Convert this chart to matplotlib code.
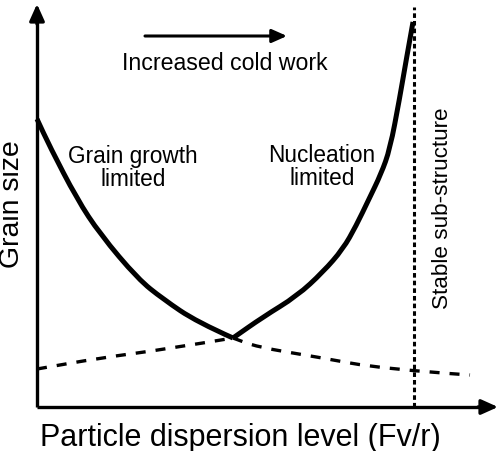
import matplotlib
matplotlib.use("Agg")
import matplotlib.pyplot as plt
from matplotlib.path import Path
from matplotlib.patches import PathPatch

plt.rcParams['font.family'] = ['Liberation Sans', 'DejaVu Sans']

# Thick curve: grain growth limited branch (left) and nucleation limited branch (right)
left_x = [0.00, 0.13, 0.40, 0.63, 1.01, 1.26, 1.60, 1.96]
left_y = [2.88, 2.60, 2.08, 1.73, 1.28, 1.08, 0.85, 0.69]
right_x = [1.96, 2.26, 2.60, 2.86, 3.06, 3.19, 3.32, 3.44, 3.53, 3.625, 3.69, 3.76]
right_y = [0.69, 0.90, 1.11, 1.35, 1.58, 1.81, 2.08, 2.33, 2.58, 3.08, 3.46, 3.85]

# Dashed continuation curves
rise_x = [0.00, 0.63, 1.30, 1.96]
rise_y = [0.38, 0.49, 0.58, 0.69]
fall_x = [1.96, 2.20, 2.80, 3.46, 4.33]
fall_y = [0.69, 0.60, 0.50, 0.38, 0.32]

# Stable sub-structure limit
limit_x = 3.77
limit_top = 4.00

x_axis_end = 4.61
y_axis_end = 4.03

xlabel = "Particle dispersion level (Fv/r)"
ylabel = "Grain size"
label_left = "Grain growth\nlimited"
label_right = "Nucleation\nlimited"
label_limit = "Stable sub-structure"
label_arrow = "Increased cold work"


def smooth_path(xs, ys):
    """Quadratic-Bezier path using the read points as control points."""
    pts = list(zip(xs, ys))
    verts = [pts[0]]
    codes = [Path.MOVETO]
    if len(pts) == 2:
        verts.append(pts[1]); codes.append(Path.LINETO)
        return Path(verts, codes)
    verts.append(((pts[0][0] + pts[1][0]) / 2, (pts[0][1] + pts[1][1]) / 2))
    codes.append(Path.LINETO)
    for i in range(1, len(pts) - 1):
        ctrl = pts[i]
        if i < len(pts) - 2:
            end = ((pts[i][0] + pts[i + 1][0]) / 2, (pts[i][1] + pts[i + 1][1]) / 2)
        else:
            end = pts[i + 1]
        verts += [ctrl, end]
        codes += [Path.CURVE3, Path.CURVE3]
    return Path(verts, codes)


fig = plt.figure(figsize=(5.0, 4.52), dpi=100)
ax = fig.add_axes([0, 0, 1, 1])
ax.set_xlim(-0.37, 4.63)
ax.set_ylim(-0.44, 4.08)
ax.axis('off')

# axes with arrows
ax.plot([0, 0], [0, y_axis_end - 0.12], color='black', lw=2.4, solid_capstyle='butt')
ax.plot([0, x_axis_end - 0.12], [0, 0], color='black', lw=2.4, solid_capstyle='butt')
ax.annotate('', xy=(0, y_axis_end), xytext=(0, y_axis_end - 0.2),
            arrowprops=dict(arrowstyle='-|>,head_length=1.0,head_width=0.45',
                            color='black', lw=2.4, shrinkA=0, shrinkB=0))
ax.annotate('', xy=(x_axis_end, 0), xytext=(x_axis_end - 0.2, 0),
            arrowprops=dict(arrowstyle='-|>,head_length=1.0,head_width=0.45',
                            color='black', lw=2.4, shrinkA=0, shrinkB=0))

# main curve
for xs, ys in ((left_x, left_y), (right_x, right_y)):
    ax.add_patch(PathPatch(smooth_path(xs, ys), facecolor='none', edgecolor='black',
                           lw=3.6, joinstyle='round', capstyle='butt'))

# dashed curves
for xs, ys in ((rise_x, rise_y), (fall_x, fall_y)):
    ax.add_patch(PathPatch(smooth_path(xs, ys), facecolor='none', edgecolor='black',
                           lw=2.4, linestyle=(0, (3, 3))))
ax.plot([limit_x, limit_x], [0, limit_top], color='black', lw=2.2, dashes=(1.5, 1.0))

# cold work arrow
ax.annotate('', xy=(2.50, 3.71), xytext=(1.08, 3.71),
            arrowprops=dict(arrowstyle='-|>,head_length=0.9,head_width=0.4',
                            color='black', lw=2.2, shrinkA=0, shrinkB=0))
ax.text(1.88, 3.45, label_arrow, ha='center', va='center', fontsize=16.7)

ax.text(0.96, 2.40, label_left, ha='center', va='center', fontsize=16.3, linespacing=1.05)
ax.text(2.85, 2.41, label_right, ha='center', va='center', fontsize=16.3, linespacing=1.05)
ax.text(4.06, 2.00, label_limit, ha='center', va='center', fontsize=16.2, rotation=90)

ax.text(-0.245, 2.04, ylabel, ha='center', va='center', fontsize=20.5, rotation=90)
ax.text(2.03, -0.30, xlabel, ha='center', va='center', fontsize=22)

fig.savefig('out.png', dpi=100)
